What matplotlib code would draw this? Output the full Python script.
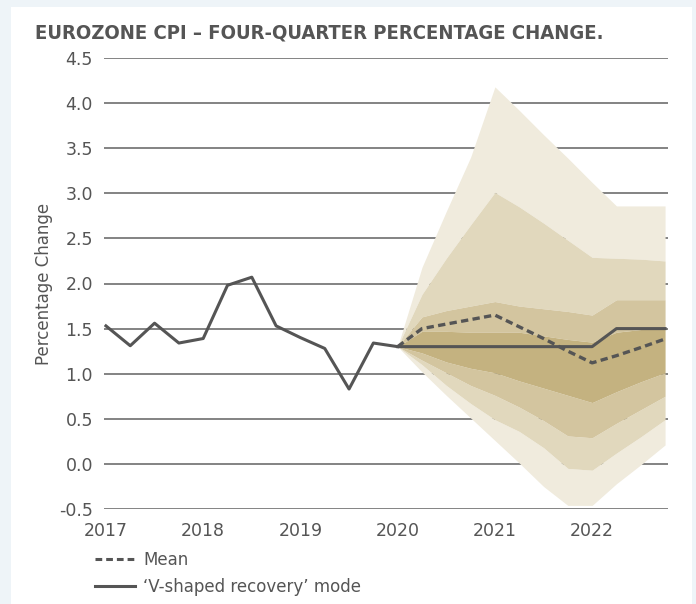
import matplotlib
matplotlib.use("Agg")
import matplotlib.pyplot as plt
from matplotlib.patches import Rectangle
from matplotlib.lines import Line2D

# quarterly history 2017Q1 .. 2020Q1
hist_x = [2017 + q * 0.25 for q in range(13)]
hist = [1.53, 1.31, 1.56, 1.34, 1.39, 1.98, 2.07, 1.53, 1.40, 1.28, 0.83, 1.34, 1.30]

# forecast 2020Q1 .. 2022Q4
fc_x = [2020 + q * 0.25 for q in range(12)]
mean = [1.30, 1.50, 1.55, 1.60, 1.65, 1.52, 1.39, 1.25, 1.12, 1.20, 1.29, 1.385]
mode = [1.30, 1.30, 1.30, 1.30, 1.30, 1.30, 1.30, 1.30, 1.30, 1.50, 1.50, 1.50]

# fan band edges (outer upper -> outer lower)
u3 = [1.30, 2.18, 2.80, 3.40, 4.18, 3.92, 3.65, 3.39, 3.12, 2.86, 2.86, 2.86]
u2 = [1.30, 1.88, 2.28, 2.65, 3.01, 2.85, 2.67, 2.48, 2.29, 2.28, 2.27, 2.25]
u1 = [1.30, 1.63, 1.70, 1.75, 1.80, 1.75, 1.72, 1.69, 1.65, 1.82, 1.82, 1.82]
u0 = [1.30, 1.47, 1.47, 1.46, 1.46, 1.46, 1.42, 1.38, 1.35, 1.46, 1.49, 1.51]
l0 = [1.30, 1.23, 1.13, 1.06, 1.01, 0.92, 0.84, 0.76, 0.68, 0.80, 0.91, 1.01]
l1 = [1.30, 1.15, 1.01, 0.87, 0.76, 0.63, 0.48, 0.31, 0.29, 0.45, 0.60, 0.75]
l2 = [1.30, 1.10, 0.87, 0.67, 0.49, 0.36, 0.18, -0.05, -0.07, 0.12, 0.30, 0.49]
l3 = [1.30, 1.02, 0.76, 0.51, 0.26, 0.01, -0.25, -0.46, -0.46, -0.22, -0.01, 0.21]

yticks = [-0.5, 0.0, 0.5, 1.0, 1.5, 2.0, 2.5, 3.0, 3.5, 4.0, 4.5]
xticks = [2017, 2018, 2019, 2020, 2021, 2022]

c_light = "#f0ebdd"
c_mid1 = "#e1d8bd"
c_mid2 = "#d3c59f"
c_dark = "#c4b280"
txt = "#555555"

fig = plt.figure(figsize=(6.96, 6.04), dpi=100)
fig.patch.set_facecolor("#eef4f8")
fig.patches.append(Rectangle((11 / 696, 0), 681 / 696, 1 - 7 / 604,
                             transform=fig.transFigure, facecolor="white",
                             edgecolor="none", zorder=-5))

ax = fig.add_axes([104 / 696, 1 - 509 / 604, 564 / 696, 451 / 604])
ax.set_zorder(2)
ax.set_facecolor("none")

for y in yticks:
    ax.axhline(y, color="#7a7a7a", lw=1.3, zorder=1)

ax.fill_between(fc_x, u2, u3, color=c_light, lw=0, zorder=2)
ax.fill_between(fc_x, l3, l2, color=c_light, lw=0, zorder=2)
ax.fill_between(fc_x, u1, u2, color=c_mid1, lw=0, zorder=2)
ax.fill_between(fc_x, l2, l1, color=c_mid1, lw=0, zorder=2)
ax.fill_between(fc_x, u0, u1, color=c_mid2, lw=0, zorder=2)
ax.fill_between(fc_x, l1, l0, color=c_mid2, lw=0, zorder=2)
ax.fill_between(fc_x, l0, u0, color=c_dark, lw=0, zorder=2)

ax.plot(hist_x, hist, color="#555555", lw=2.2, zorder=4)
ax.plot(fc_x, mode, color="#555555", lw=2.2, zorder=4)
ax.plot(fc_x, mean, color="#555555", lw=2.4, ls=(0, (2.2, 1.3)), zorder=5)

ax.set_xlim(2016.98, 2022.78)
ax.set_ylim(-0.5, 4.5)
ax.set_yticks(yticks)
ax.set_yticklabels(["%.1f" % v for v in yticks])
ax.set_xticks(xticks)
ax.tick_params(length=0, labelsize=12.5, labelcolor=txt)
ax.tick_params(axis="y", pad=8)
ax.tick_params(axis="x", pad=9)
for s in ax.spines.values():
    s.set_visible(False)

ax.set_ylabel("Percentage Change", fontsize=12, color=txt, labelpad=4)

fig.text(35 / 696, 1 - 33 / 604, "EUROZONE CPI \u2013 FOUR-QUARTER PERCENTAGE CHANGE.",
         fontsize=14.5, fontweight="bold", fontstretch="condensed", color=txt,
         va="center", ha="left")

handles = [Line2D([], [], color="#555555", lw=2.2, ls=(0, (2.2, 1.3))),
           Line2D([], [], color="#555555", lw=2.2)]
fig.legend(handles, ["Mean", "\u2018V-shaped recovery\u2019 mode"],
           loc="upper left", bbox_to_anchor=(88 / 696, 1 - 544 / 604),
           frameon=False, fontsize=12, labelcolor=txt, handlelength=2.4,
           handletextpad=0.5, labelspacing=0.55, borderaxespad=0)

fig.savefig("out.png", dpi=100)
